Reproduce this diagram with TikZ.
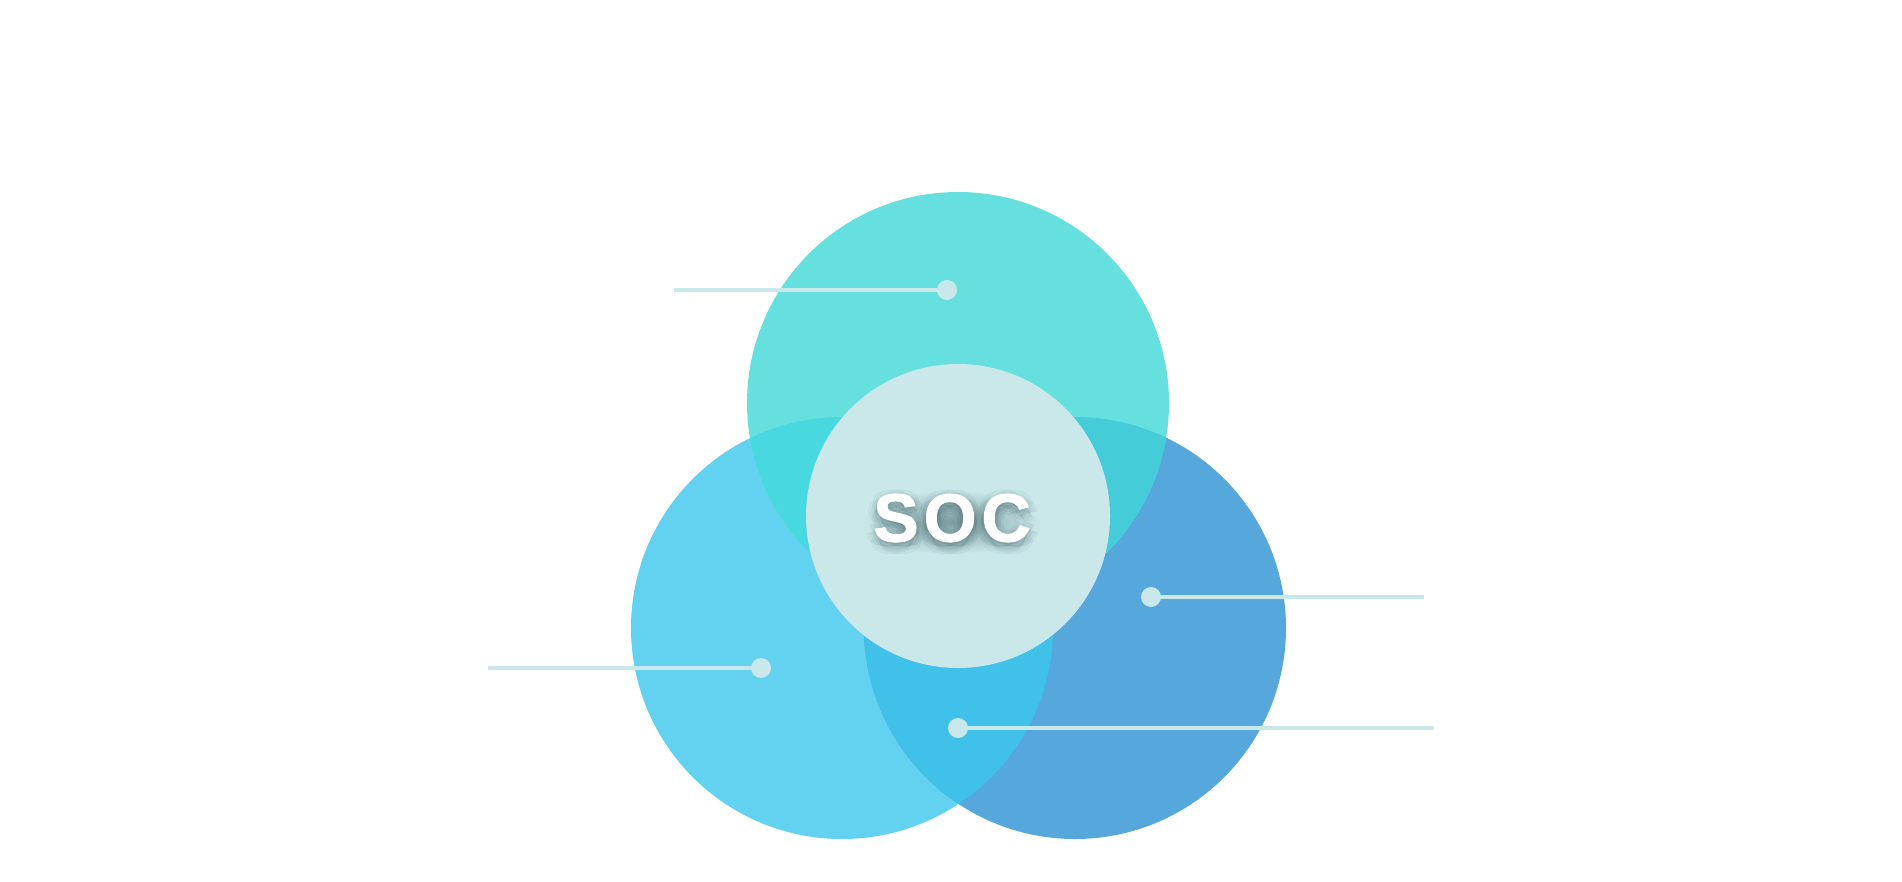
\documentclass[tikz,border=0pt]{standalone}
\usepackage{fontspec}
\setmainfont{Liberation Sans}
\newfontfamily\socfont[FakeBold=1.5]{Liberation Sans Bold}
\usetikzlibrary{calc,fadings}
\definecolor{topc}{HTML}{66E0DE}
\definecolor{leftc}{HTML}{63D2F1}
\definecolor{rightc}{HTML}{56A7DC}
\definecolor{tlc}{HTML}{48D9E0}
\definecolor{trc}{HTML}{44CDD8}
\definecolor{lrc}{HTML}{40C1EA}
\definecolor{tric}{HTML}{3FC8E0}
\definecolor{centc}{HTML}{CAE8EA}
\definecolor{linec}{HTML}{C8E8EC}
\definecolor{shadowc}{HTML}{2F5158}
\tikzfading[name=softblob, inner color=transparent!0, outer color=transparent!100]
\tikzset{
  bigcirc/.style={circle, inner sep=0pt, minimum size=422pt, draw=none},
  dotnode/.style={circle, inner sep=0pt, minimum size=20pt, fill=linec, draw=none},
  leader/.style={draw=linec, line width=3.5pt},
  soctext/.style={font=\fontsize{68}{68}\socfont, inner sep=0pt},
}
\newcommand{\soclabel}{S\kern5pt O\kern5pt C}
\begin{document}
\begin{tikzpicture}[x=1pt,y=-1pt]
\useasboundingbox (0,0) rectangle (1902,881);
% three big circles
\node[bigcirc, fill=leftc] (L) at (842,628) {};
\node[bigcirc, fill=rightc] (R) at (1075,628) {};
\node[bigcirc, fill=topc] (T) at (958,403) {};
% overlaps
\begin{scope}
  \clip (T.center) circle[radius=211pt];
  \fill[tlc] (L.center) circle[radius=211pt];
\end{scope}
\begin{scope}
  \clip (T.center) circle[radius=211pt];
  \fill[trc] (R.center) circle[radius=211pt];
\end{scope}
\begin{scope}
  \clip (L.center) circle[radius=211pt];
  \fill[lrc] (R.center) circle[radius=211pt];
\end{scope}
\begin{scope}
  \clip (L.center) circle[radius=211pt];
  \clip (R.center) circle[radius=211pt];
  \fill[tric] (T.center) circle[radius=211pt];
\end{scope}
% centre circle
\node[circle, inner sep=0pt, minimum size=304pt, fill=centc] (C) at (958,516) {};
% text shadow (soft glow)
\fill[shadowc, fill opacity=0.5, path fading=softblob] (952,522) ellipse [x radius=88pt, y radius=32pt];
\foreach \r in {3,6,9} {
  \foreach \a in {0,60,...,300} {
    \node[soctext, text=shadowc, text opacity=0.035] (sh\r-\a) at ($(952,518)+({\r*cos(\a)},{\r*sin(\a)+4})$) {\soclabel};
  }
}
\node[soctext, text=white] (soc) at (952,518) {\soclabel};
% leaders
\node[dotnode] (d1) at (947,290) {};
\coordinate (e1) at (674,290);
\draw[leader] (d1.center) -- (e1);
\node[dotnode] (d2) at (1151,597) {};
\coordinate (e2) at (1424,597);
\draw[leader] (d2.center) -- (e2);
\node[dotnode] (d3) at (761,668) {};
\coordinate (e3) at (488,668);
\draw[leader] (d3.center) -- (e3);
\node[dotnode] (d4) at (958,728) {};
\coordinate (e4) at (1434,728);
\draw[leader] (d4.center) -- (e4);
\end{tikzpicture}
\end{document}
